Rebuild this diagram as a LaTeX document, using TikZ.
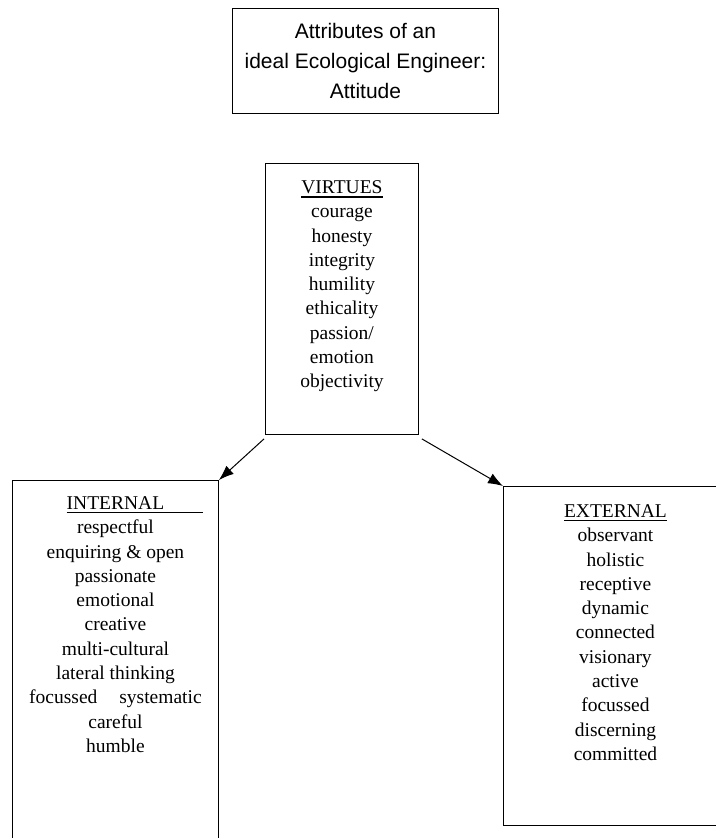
\documentclass[tikz,border=0pt]{standalone}
\usepackage{fontspec}
\setmainfont{Liberation Serif}
\newfontfamily\headfont{Liberation Sans}
\usetikzlibrary{arrows.meta,positioning}

\newcommand{\ulbar}[1]{\vtop{\hbox{#1}\kern2.5pt\hrule height 1.3pt}}

\begin{document}
\begin{tikzpicture}[x=1pt,y=-1pt,>={Latex[length=15pt,width=11pt]},
    titlenode/.style={rectangle, draw=black, line width=0.9pt, align=center,
      font=\headfont\fontsize{21}{30}\selectfont, minimum width=266pt,
      minimum height=105pt, anchor=north west},
    listnode/.style={rectangle, draw=black, line width=0.9pt, inner sep=0pt,
      anchor=north west, font=\fontsize{19.5}{24.3}\selectfont}]
  \useasboundingbox (0,0) rectangle (715,838);

  % title
  \node[titlenode] (title) at (232,8) {Attributes of an\\ideal Ecological Engineer:\\Attitude};

  % the three lists
  \node[listnode] (vir) at (265,163) {\parbox[t][271pt][t]{153pt}{\centering
      \rule{0pt}{30pt}\ulbar{VIRTUES}\\courage\\honesty\\integrity\\humility\\
      ethicality\\passion/\\emotion\\objectivity}};
  \node[listnode] (int) at (12,480) {\parbox[t][380pt][t]{206pt}{\centering
      \rule{0pt}{29pt}\ulbar{INTERNAL}\rlap{\ulbar{\hspace{39pt}}}\\respectful\\
      enquiring \& open\\passionate\\emotional\\creative\\multi-cultural\\
      lateral thinking\\focussed\hspace{22pt}systematic\\careful\\humble}};
  \node[listnode] (ext) at (503,486) {\parbox[t][339pt][t]{224pt}{\centering
      \rule{0pt}{31pt}\ulbar{EXTERNAL}\\observant\\holistic\\receptive\\dynamic\\
      connected\\visionary\\active\\focussed\\discerning\\committed}};

  \draw[->, line width=1pt] ([xshift=-1pt,yshift=-4pt]vir.south west) -- (int.north east);
  \draw[->, line width=1pt] ([xshift=3pt,yshift=-4pt]vir.south east) -- (ext.north west);
\end{tikzpicture}
\end{document}
